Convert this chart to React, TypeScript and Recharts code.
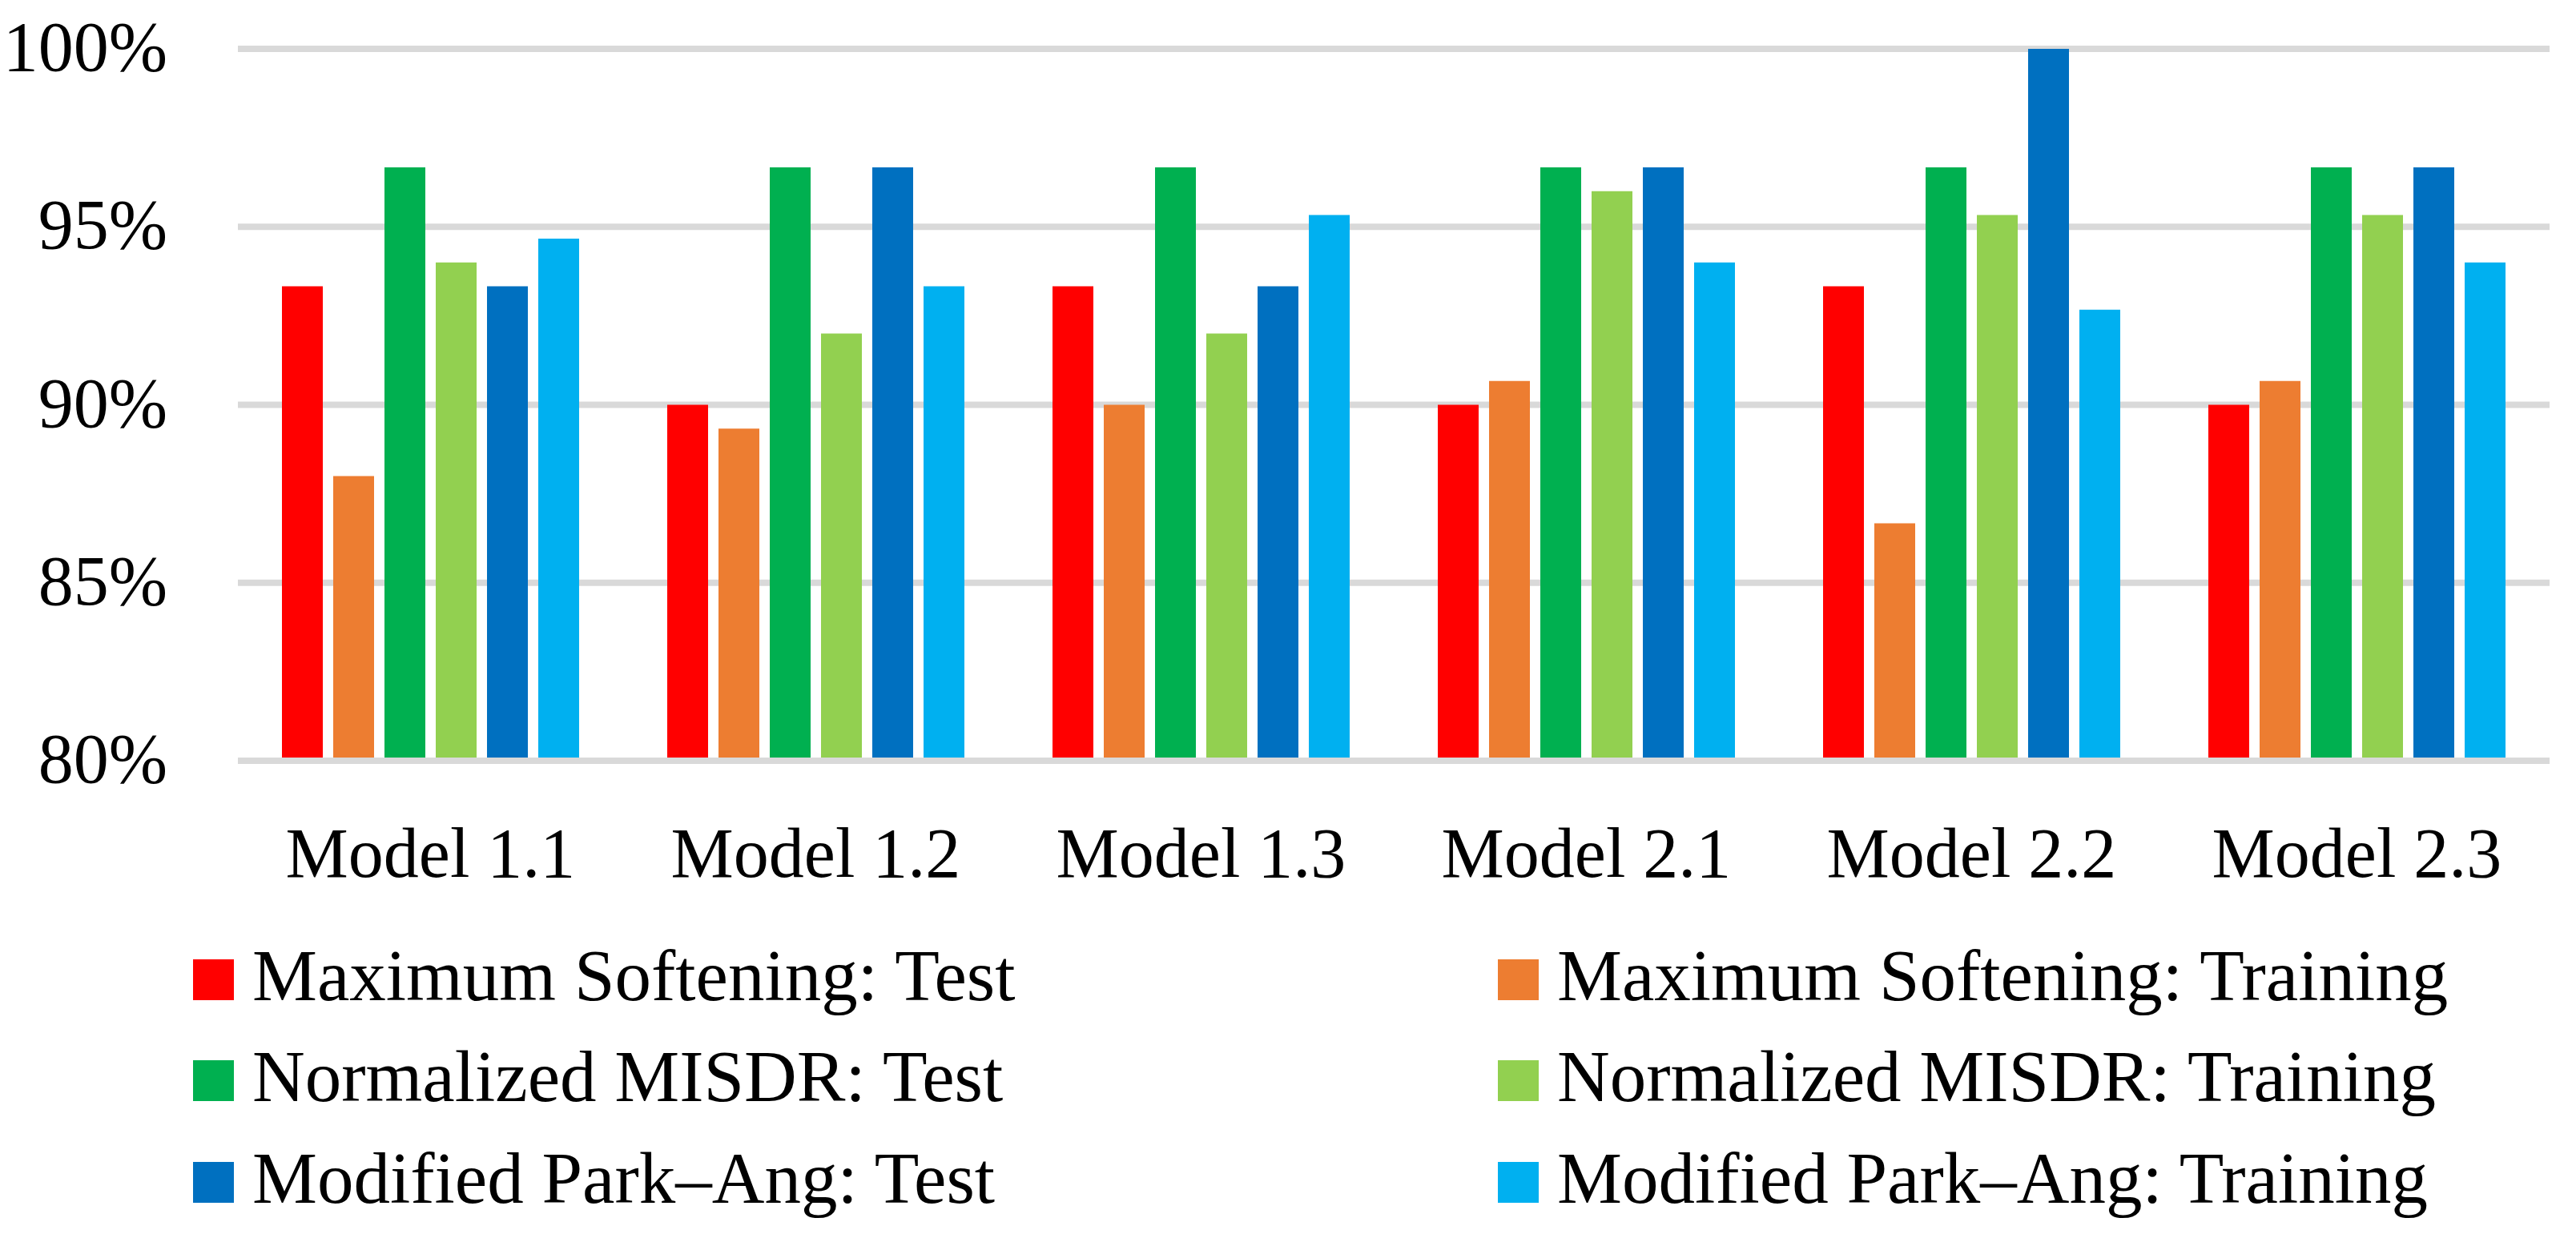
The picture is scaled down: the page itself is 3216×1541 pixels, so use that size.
import { BarChart, Bar, XAxis, YAxis, CartesianGrid, ReferenceLine } from 'recharts';

const categories = ['Model 1.1', 'Model 1.2', 'Model 1.3', 'Model 2.1', 'Model 2.2', 'Model 2.3'];

const maxSoftTest = [93.33, 90, 93.33, 90, 93.33, 90];
const maxSoftTraining = [88, 89.33, 90, 90.67, 86.67, 90.67];
const misdrTest = [96.67, 96.67, 96.67, 96.67, 96.67, 96.67];
const misdrTraining = [94, 92, 92, 96, 95.33, 95.33];
const parkAngTest = [93.33, 96.67, 93.33, 96.67, 100, 96.67];
const parkAngTraining = [94.67, 93.33, 95.33, 94, 92.67, 94];

const yTicks = [80, 85, 90, 95, 100];

const series = [
  { key: 'msTest', name: 'Maximum Softening: Test', color: '#FF0000', values: maxSoftTest },
  { key: 'msTrain', name: 'Maximum Softening: Training', color: '#ED7D31', values: maxSoftTraining },
  { key: 'nmTest', name: 'Normalized MISDR: Test', color: '#00B050', values: misdrTest },
  { key: 'nmTrain', name: 'Normalized MISDR: Training', color: '#92D050', values: misdrTraining },
  { key: 'paTest', name: 'Modified Park\u2013Ang: Test', color: '#0070C0', values: parkAngTest },
  { key: 'paTrain', name: 'Modified Park\u2013Ang: Training', color: '#00B0F0', values: parkAngTraining },
];

const data = categories.map((name, i) => {
  const row: Record<string, string | number> = { name };
  series.forEach((s) => {
    row[s.key] = s.values[i];
  });
  return row;
});

const FONT = '"Liberation Serif", "DejaVu Serif", serif';
const W = 3216;
const H = 1541;

// two-column legend under the axis, drawn as plain svg
function LegendBlock() {
  const cols = [241, 1870];
  const baselines = [1249, 1375, 1502];
  return (
    <svg width={W} height={H} style={{ position: 'absolute', left: 0, top: 0, pointerEvents: 'none' }}>
      {series.map((s, i) => {
        const x = cols[i % 2];
        const b = baselines[Math.floor(i / 2)];
        return (
          <g key={s.key}>
            <rect x={x} y={b - 51} width={51} height={51} fill={s.color} />
            <text x={x + 74} y={b} fontFamily={FONT} fontSize={91} fill="#000">
              {s.name}
            </text>
          </g>
        );
      })}
    </svg>
  );
}

export default function App() {
  return (
    <div style={{ position: 'absolute', left: 0, top: 0, width: W, height: H, background: '#fff' }}>
      <BarChart
        width={W}
        height={H}
        data={data}
        margin={{ top: 61, right: 33, left: 0, bottom: 441 }}
        barSize={51}
        barGap={13}
      >
        <CartesianGrid vertical={false} stroke="#D9D9D9" strokeWidth={8} />
        <XAxis
          dataKey="name"
          height={150}
          axisLine={false}
          tickLine={false}
          tickSize={0}
          tickMargin={83}
          tick={{ fill: '#000', fontSize: 88, fontFamily: FONT }}
        />
        <YAxis
          width={297}
          domain={[80, 100]}
          ticks={yTicks}
          interval={0}
          axisLine={false}
          tickLine={false}
          tickSize={0}
          tickMargin={88}
          tickFormatter={(v: number) => `${v}%`}
          tick={{ fill: '#000', fontSize: 88, fontFamily: FONT, dy: -4 }}
        />
        {series.map((s) => (
          <Bar key={s.key} dataKey={s.key} name={s.name} fill={s.color} isAnimationActive={false} />
        ))}
        <ReferenceLine y={80} stroke="#D9D9D9" strokeWidth={8} />
      </BarChart>
      <LegendBlock />
    </div>
  );
}
